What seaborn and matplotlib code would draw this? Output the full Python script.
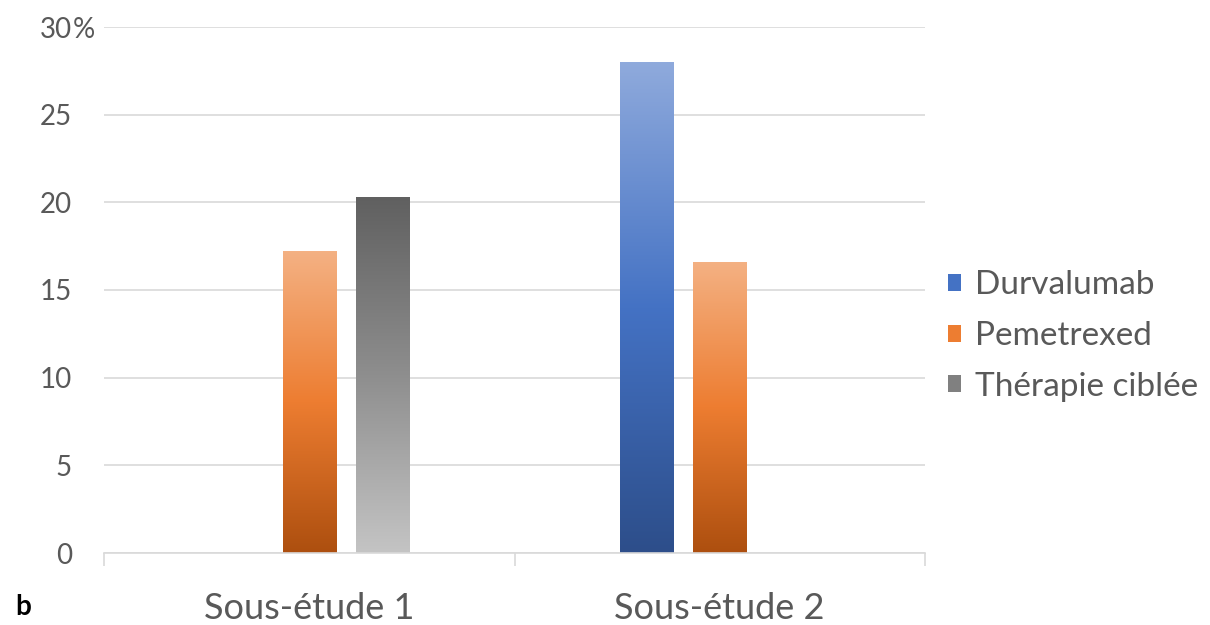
import numpy as np
import pandas as pd
import matplotlib
matplotlib.use("Agg")
import matplotlib.pyplot as plt
import seaborn as sns
from matplotlib.colors import LinearSegmentedColormap
from matplotlib.patches import Patch

# data
etudes = ["Sous-étude 1", "Sous-étude 2"]
traitements = ["Durvalumab", "Pemetrexed", "Thérapie ciblée"]
durvalumab = [np.nan, 28.0]
pemetrexed = [17.2, 16.6]
therapie = [20.3, np.nan]
yticks = [0, 5, 10, 15, 20, 25, 30]

# gradient stops, top -> bottom
grad = {
    "Durvalumab": ["#8faadc", "#4472c4", "#2d4e8a"],
    "Pemetrexed": ["#f4b183", "#ed7d31", "#ad4f0f"],
    "Thérapie ciblée": ["#606060", "#8e8e8e", "#c4c4c4"],
}
mid = {k: v[1] for k, v in grad.items()}
mid["Thérapie ciblée"] = "#808080"

df = pd.DataFrame({
    "etude": etudes * 3,
    "traitement": [t for t in traitements for _ in etudes],
    "pct": durvalumab + pemetrexed + therapie,
})

sns.set_style("white")
plt.rcParams["font.family"] = ["Lato", "DejaVu Sans"]
grey_txt = "#595959"

fig = plt.figure(figsize=(12.1, 6.25), dpi=100)
ax = fig.add_axes([104 / 1210, 1 - 553 / 625, 821 / 1210, 526 / 625])

sns.barplot(data=df, x="etude", y="pct", hue="traitement", hue_order=traitements,
            palette=mid, width=0.534, gap=0.27, ax=ax, legend=False, zorder=3)

# vertical gradient fill inside each bar
for cont, name in zip(ax.containers, traitements):
    cmap = LinearSegmentedColormap.from_list(name, grad[name])
    for bar in cont:
        h = bar.get_height()
        if not np.isfinite(h) or h <= 0:
            continue
        x0 = bar.get_x()
        w = bar.get_width()
        img = ax.imshow(np.linspace(0, 1, 256).reshape(-1, 1), cmap=cmap, aspect="auto",
                        extent=(x0, x0 + w, 0, h), origin="upper", zorder=3.5)
        img.set_clip_path(bar)
        bar.set_edgecolor("white")
        bar.set_linewidth(0.6)

ax.set_xlim(-0.5, 1.5)
ax.set_ylim(0, 30)
ax.set_yticks(yticks)
ax.set_yticklabels([str(v) for v in yticks])
ax.yaxis.grid(True, color="#d9d9d9", lw=1.2, zorder=0)
ax.set_axisbelow(True)
for s in ["left", "right", "top"]:
    ax.spines[s].set_visible(False)
ax.spines["bottom"].set_color("#d9d9d9")
ax.spines["bottom"].set_linewidth(1.2)
ax.spines["bottom"].set_zorder(4)

ax.set_xlabel("")
ax.set_ylabel("")
ax.set_xticks([-0.5, 0.5, 1.5], minor=True)
ax.tick_params(axis="x", which="minor", bottom=True, length=9, color="#d9d9d9", width=1.2)
ax.tick_params(axis="x", which="major", length=0, pad=28, labelsize=26, labelcolor=grey_txt)
ax.tick_params(axis="y", length=0, pad=23, labelsize=20, labelcolor=grey_txt)
# "%" hangs right of the 30 label
ax.text(-(104 - 73) / 821, 30, "%", transform=ax.get_yaxis_transform(), fontsize=20,
        color=grey_txt, ha="left", va="center_baseline")

handles = [Patch(facecolor=mid[t], edgecolor="none", label=t) for t in traitements]
ax.legend(handles=handles, loc="center left", bbox_to_anchor=(1.028, 0.4125), frameon=False,
          fontsize=24, labelcolor=grey_txt, handlelength=0.4, handleheight=0.4,
          handletextpad=0.42, labelspacing=0.62, borderpad=0, borderaxespad=0)

fig.text(15 / 1210, 1 - 607 / 625, "b", fontsize=20, fontweight="bold", color="black",
         va="center", ha="left")

fig.savefig("out.png", dpi=100)
